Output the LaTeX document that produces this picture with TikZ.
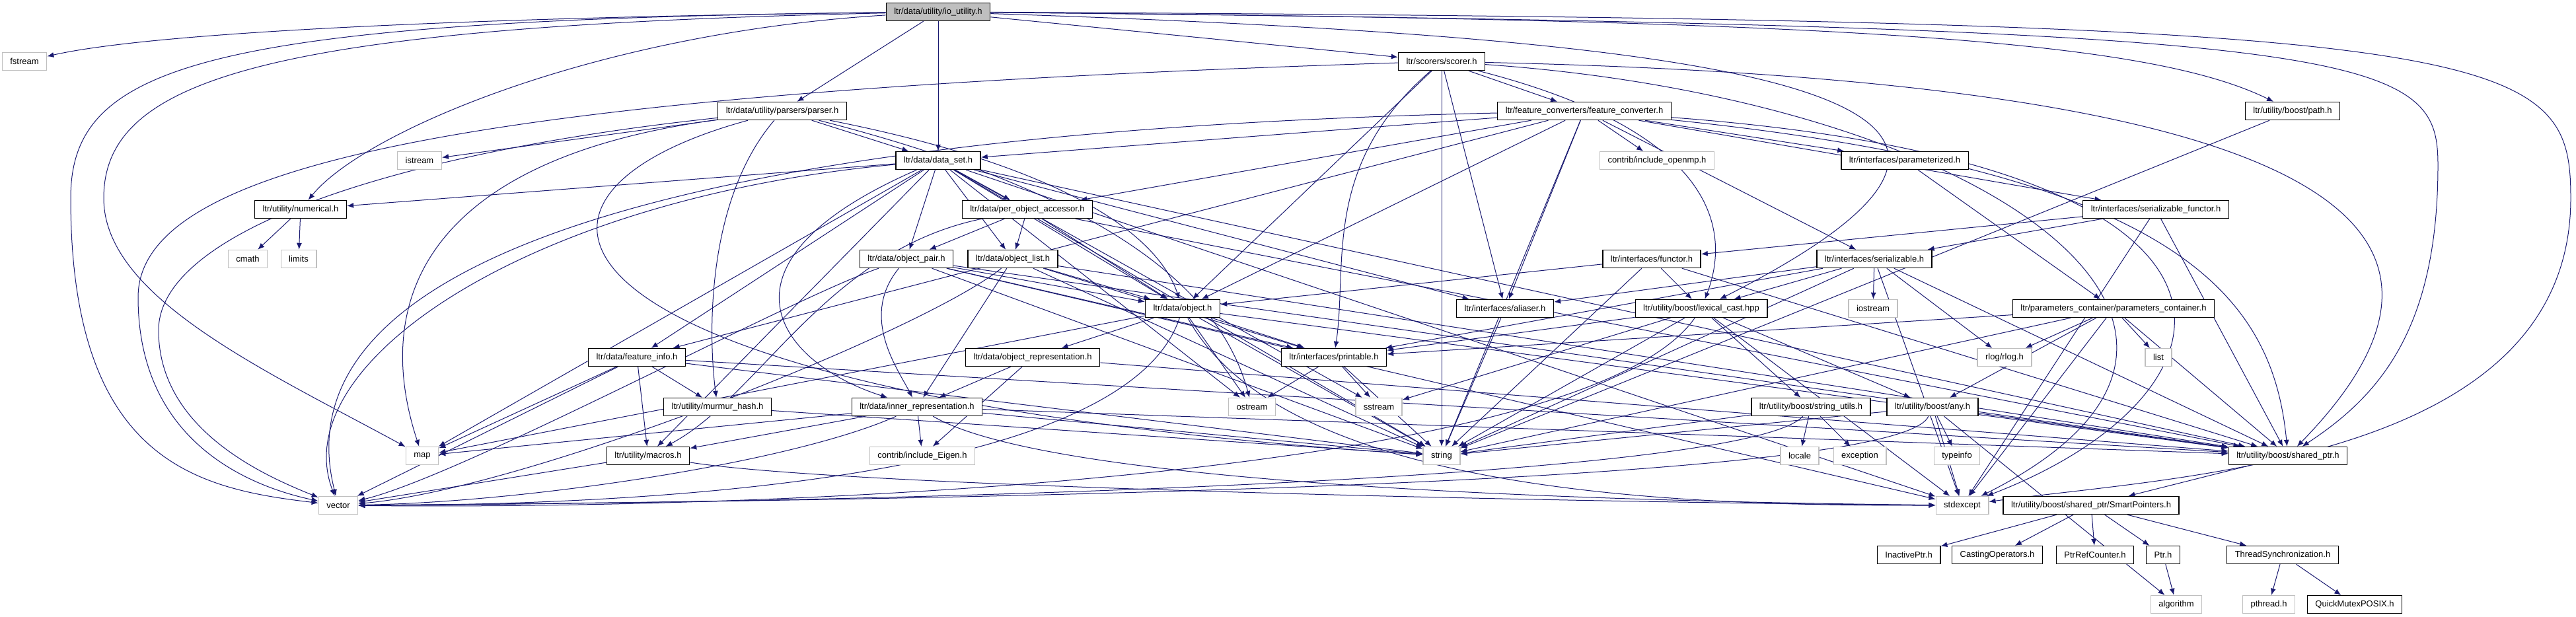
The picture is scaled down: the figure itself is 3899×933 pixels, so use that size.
\documentclass[tikz,border=0pt]{standalone}
\usepackage{fontspec}
\setmainfont{Liberation Sans}
\usetikzlibrary{arrows.meta}
\pgfdeclarelayer{bg}
\pgfsetlayers{bg,main}
\definecolor{edgeblue}{HTML}{191970}
\definecolor{sysgray}{HTML}{BFBFBF}

\begin{document}
\begin{tikzpicture}[
  x=0.5pt, y=-0.5pt,
  font=\fontsize{6.5pt}{7pt}\selectfont,
  hdr/.style={draw=black, line width=0.7pt, fill=white, inner xsep=6pt, inner ysep=0pt, minimum height=13.5pt},
  sys/.style={hdr, draw=sysgray},
  rootbox/.style={hdr, fill=sysgray},
  dep/.style={-{Latex[length=5pt,width=4pt]}, draw=edgeblue, line width=0.5pt}
]
\useasboundingbox (0,0) rectangle (3899,933);
\node[rootbox] (io) at (1420,18) {ltr/data/utility/io\_utility.h};
\node[sys] (fstream) at (37,93) {fstream};
\node[hdr] (scorer) at (2182,93) {ltr/scorers/scorer.h};
\node[hdr] (parser) at (1184,168) {ltr/data/utility/parsers/parser.h};
\node[hdr] (fc) at (2398,168) {ltr/feature\_converters/feature\_converter.h};
\node[hdr] (path) at (3470,168) {ltr/utility/boost/path.h};
\node[sys] (istream) at (635,243) {istream};
\node[hdr] (dataset) at (1420,243) {ltr/data/data\_set.h};
\node[sys] (openmp) at (2508,243) {contrib/include\_openmp.h};
\node[hdr] (param) at (2883,243) {ltr/interfaces/parameterized.h};
\node[hdr] (numerical) at (455,317) {ltr/utility/numerical.h};
\node[hdr] (accessor) at (1555,317) {ltr/data/per\_object\_accessor.h};
\node[hdr] (serfunctor) at (3263,317) {ltr/interfaces/serializable\_functor.h};
\node[sys] (cmath) at (375,392) {cmath};
\node[sys] (limits) at (452,392) {limits};
\node[hdr] (pair) at (1372,392) {ltr/data/object\_pair.h};
\node[hdr] (objlist) at (1533,392) {ltr/data/object\_list.h};
\node[hdr] (functor) at (2500,392) {ltr/interfaces/functor.h};
\node[hdr] (serializable) at (2837,392) {ltr/interfaces/serializable.h};
\node[hdr] (object) at (1790,467) {ltr/data/object.h};
\node[hdr] (aliaser) at (2278,467) {ltr/interfaces/aliaser.h};
\node[hdr] (lexcast) at (2575,467) {ltr/utility/boost/lexical\_cast.hpp};
\node[sys] (iostream) at (2835,467) {iostream};
\node[hdr] (paramcont) at (3199,467) {ltr/parameters\_container/parameters\_container.h};
\node[hdr] (featinfo) at (964,541) {ltr/data/feature\_info.h};
\node[hdr] (objrep) at (1563,541) {ltr/data/object\_representation.h};
\node[hdr] (printable) at (2019,541) {ltr/interfaces/printable.h};
\node[sys] (rlog) at (3034,541) {rlog/rlog.h};
\node[sys] (list) at (3267,541) {list};
\node[hdr] (murmur) at (1086,616) {ltr/utility/murmur\_hash.h};
\node[hdr] (innerrep) at (1388,616) {ltr/data/inner\_representation.h};
\node[sys] (ostream) at (1895,616) {ostream};
\node[sys] (sstream) at (2087,616) {sstream};
\node[hdr] (strutils) at (2741,616) {ltr/utility/boost/string\_utils.h};
\node[hdr] (any) at (2925,616) {ltr/utility/boost/any.h};
\node[sys] (map) at (639,690) {map};
\node[hdr] (macros) at (981,690) {ltr/utility/macros.h};
\node[sys] (eigen) at (1396,690) {contrib/include\_Eigen.h};
\node[sys] (string) at (2182,690) {string};
\node[sys] (locale) at (2724,690) {locale};
\node[sys] (exception) at (2815,690) {exception};
\node[sys] (typeinfo) at (2962,690) {typeinfo};
\node[hdr] (sharedptr) at (3463,690) {ltr/utility/boost/shared\_ptr.h};
\node[sys] (vector) at (512,765) {vector};
\node[sys] (stdexcept) at (2970,765) {stdexcept};
\node[hdr] (smart) at (3165,765) {ltr/utility/boost/shared\_ptr/SmartPointers.h};
\node[hdr] (inactive) at (2889,840) {InactivePtr.h};
\node[hdr] (casting) at (3023,840) {CastingOperators.h};
\node[hdr] (refcounter) at (3171,840) {PtrRefCounter.h};
\node[hdr] (ptr) at (3274,840) {Ptr.h};
\node[hdr] (threadsync) at (3455,840) {ThreadSynchronization.h};
\node[sys] (algorithm) at (3294,915) {algorithm};
\node[sys] (pthread) at (3434,915) {pthread.h};
\node[hdr] (quickmutex) at (3564,915) {QuickMutexPOSIX.h};
\begin{pgfonlayer}{bg}
\draw[dep] (io) .. controls (800,25) and (250,45) .. (fstream);
\draw[dep] (io) .. controls (300,30) and (107,100) .. (107,300) .. controls (107,700) and (300,740) .. (vector);
\draw[dep] (io) .. controls (400,40) and (157,120) .. (157,300) .. controls (157,450) and (400,560) .. (map);
\draw[dep] (io) .. controls (900,50) and (550,200) .. (numerical);
\draw[dep] (io) -- (parser); \draw[dep] (io) -- (dataset); \draw[dep] (io) -- (scorer);
\draw[dep] (io) .. controls (2800,30) and (3250,60) .. (path);
\draw[dep] (io) .. controls (2700,60) and (3200,150) .. (lexcast);
\draw[dep] (io) .. controls (3600,40) and (3690,80) .. (3690,250) .. controls (3690,500) and (3600,600) .. (sharedptr);
\draw[dep] (io) .. controls (3800,30) and (3891,70) .. (3891,300) .. controls (3891,700) and (3300,720) .. (stdexcept);
\draw[dep] (scorer) .. controls (700,140) and (209,250) .. (209,450) .. controls (209,650) and (350,730) .. (vector);
\draw[dep] (scorer) -- (fc); \draw[dep] (scorer) -- (object); \draw[dep] (scorer) -- (string); \draw[dep] (scorer) -- (aliaser);
\draw[dep] (scorer) .. controls (2600,200) and (2620,350) .. (lexcast);
\draw[dep] (scorer) .. controls (3400,120) and (3843,300) .. (sharedptr);
\draw[dep] (scorer) .. controls (2000,250) and (2040,400) .. (printable);
\draw[dep] (scorer) .. controls (3000,150) and (3500,500) .. (stdexcept);
\draw[dep] (parser) -- (istream); \draw[dep] (parser) .. controls (600,230) and (240,350) .. (240,500) .. controls (240,650) and (400,720) .. (vector); \draw[dep] (parser) .. controls (650,240) and (560,450) .. (map);
\draw[dep] (parser) -- (dataset); \draw[dep] (parser) .. controls (1071,300) and (1071,500) .. (murmur); \draw[dep] (parser) .. controls (1600,250) and (1750,350) .. (object);
\draw[dep] (parser) .. controls (700,300) and (800,600) .. (string); \draw[dep] (parser) .. controls (1700,300) and (1850,450) .. (ostream);
\draw[dep] (fc) .. controls (1000,200) and (420,400) .. (vector); \draw[dep] (fc) -- (dataset); \draw[dep] (fc) -- (accessor); \draw[dep] (fc) -- (object);
\draw[dep] (fc) -- (aliaser); \draw[dep] (fc) -- (string); \draw[dep] (fc) -- (openmp); \draw[dep] (fc) -- (param);
\draw[dep] (fc) -- (serializable); \draw[dep] (fc) -- (featinfo); \draw[dep] (fc) -- (serfunctor); \draw[dep] (fc) .. controls (3300,260) and (3440,450) .. (sharedptr);
\draw[dep] (fc) .. controls (3500,250) and (3400,600) .. (stdexcept);
\draw[dep] (dataset) -- (numerical); \draw[dep] (dataset) .. controls (800,300) and (430,550) .. (vector); \draw[dep] (dataset) -- (map); \draw[dep] (dataset) -- (accessor);
\draw[dep] (dataset) -- (pair); \draw[dep] (dataset) -- (objlist); \draw[dep] (dataset) -- (object); \draw[dep] (dataset) -- (featinfo);
\draw[dep] (dataset) -- (macros); \draw[dep] (dataset) .. controls (1060,400) and (1180,550) .. (innerrep); \draw[dep] (dataset) -- (aliaser); \draw[dep] (dataset) -- (ostream);
\draw[dep] (dataset) -- (sstream); \draw[dep] (dataset) -- (string); \draw[dep] (dataset) -- (sharedptr); \draw[dep] (dataset) -- (stdexcept);
\draw[dep] (numerical) -- (cmath); \draw[dep] (numerical) -- (limits);
\draw[dep] (accessor) -- (pair); \draw[dep] (accessor) -- (objlist); \draw[dep] (accessor) -- (object); \draw[dep] (accessor) .. controls (1250,380) and (1150,600) .. (macros);
\draw[dep] (accessor) -- (sharedptr);
\draw[dep] (pair) -- (object); \draw[dep] (pair) .. controls (1300,480) and (1360,560) .. (innerrep); \draw[dep] (pair) -- (printable); \draw[dep] (pair) -- (string);
\draw[dep] (pair) .. controls (1200,450) and (700,720) .. (vector); \draw[dep] (pair) -- (sharedptr); \draw[dep] (pair) -- (stdexcept);
\draw[dep] (objlist) -- (object); \draw[dep] (objlist) -- (printable); \draw[dep] (objlist) -- (string); \draw[dep] (objlist) .. controls (1400,500) and (800,740) .. (vector);
\draw[dep] (objlist) -- (innerrep); \draw[dep] (objlist) -- (sharedptr);
\draw[dep] (functor) -- (object); \draw[dep] (functor) -- (lexcast); \draw[dep] (functor) -- (string); \draw[dep] (functor) -- (sharedptr);
\draw[dep] (serfunctor) -- (functor); \draw[dep] (serfunctor) -- (serializable); \draw[dep] (serfunctor) -- (sharedptr); \draw[dep] (serfunctor) -- (stdexcept);
\draw[dep] (serializable) -- (aliaser); \draw[dep] (serializable) -- (lexcast); \draw[dep] (serializable) -- (iostream); \draw[dep] (serializable) -- (rlog);
\draw[dep] (serializable) -- (printable); \draw[dep] (serializable) -- (string); \draw[dep] (serializable) -- (sharedptr); \draw[dep] (serializable) -- (stdexcept);
\draw[dep] (param) -- (paramcont);
\draw[dep] (paramcont) -- (rlog); \draw[dep] (paramcont) -- (list); \draw[dep] (paramcont) -- (any); \draw[dep] (paramcont) -- (sharedptr);
\draw[dep] (paramcont) -- (string); \draw[dep] (paramcont) -- (stdexcept); \draw[dep] (paramcont) -- (printable);
\draw[dep] (object) -- (objrep); \draw[dep] (object) -- (printable); \draw[dep] (object) -- (ostream); \draw[dep] (object) -- (string);
\draw[dep] (object) .. controls (1700,740) and (900,765) .. (vector); \draw[dep] (object) -- (map); \draw[dep] (object) -- (sharedptr); \draw[dep] (object) .. controls (1950,760) and (2600,765) .. (stdexcept);
\draw[dep] (lexcast) -- (printable); \draw[dep] (lexcast) -- (sstream); \draw[dep] (lexcast) -- (string); \draw[dep] (lexcast) -- (strutils);
\draw[dep] (lexcast) -- (any); \draw[dep] (lexcast) .. controls (2400,720) and (1200,772) .. (vector); \draw[dep] (lexcast) -- (stdexcept);
\draw[dep] (featinfo) -- (murmur); \draw[dep] (featinfo) -- (macros); \draw[dep] (featinfo) -- (map); \draw[dep] (featinfo) -- (vector);
\draw[dep] (featinfo) -- (string); \draw[dep] (featinfo) -- (sharedptr);
\draw[dep] (objrep) -- (innerrep); \draw[dep] (objrep) -- (eigen); \draw[dep] (objrep) -- (sharedptr);
\draw[dep] (printable) -- (ostream); \draw[dep] (printable) -- (sstream); \draw[dep] (printable) -- (string);
\draw[dep] (innerrep) -- (eigen); \draw[dep] (innerrep) -- (macros); \draw[dep] (innerrep) -- (map); \draw[dep] (innerrep) .. controls (1200,700) and (800,760) .. (vector);
\draw[dep] (innerrep) -- (string); \draw[dep] (innerrep) -- (sharedptr); \draw[dep] (innerrep) .. controls (1600,740) and (2500,760) .. (stdexcept);
\draw[dep] (macros) -- (vector); \draw[dep] (macros) .. controls (1300,740) and (2500,762) .. (stdexcept);
\draw[dep] (strutils) -- (locale); \draw[dep] (strutils) -- (exception); \draw[dep] (strutils) -- (string); \draw[dep] (strutils) .. controls (2650,720) and (1500,760) .. (vector);
\draw[dep] (any) -- (typeinfo); \draw[dep] (any) -- (algorithm); \draw[dep] (any) -- (string); \draw[dep] (any) -- (sharedptr);
\draw[dep] (any) -- (stdexcept); \draw[dep] (any) .. controls (2880,720) and (1800,755) .. (vector);
\draw[dep] (path) -- (string); \draw[dep] (aliaser) -- (string); \draw[dep] (murmur) -- (string);
\draw[dep] (sharedptr) -- (smart);
\draw[dep] (smart) -- (inactive); \draw[dep] (smart) -- (casting); \draw[dep] (smart) -- (refcounter); \draw[dep] (smart) -- (ptr); \draw[dep] (smart) -- (threadsync);
\draw[dep] (ptr) -- (algorithm); \draw[dep] (threadsync) -- (pthread); \draw[dep] (threadsync) -- (quickmutex);
\end{pgfonlayer}
\end{tikzpicture}
\end{document}
